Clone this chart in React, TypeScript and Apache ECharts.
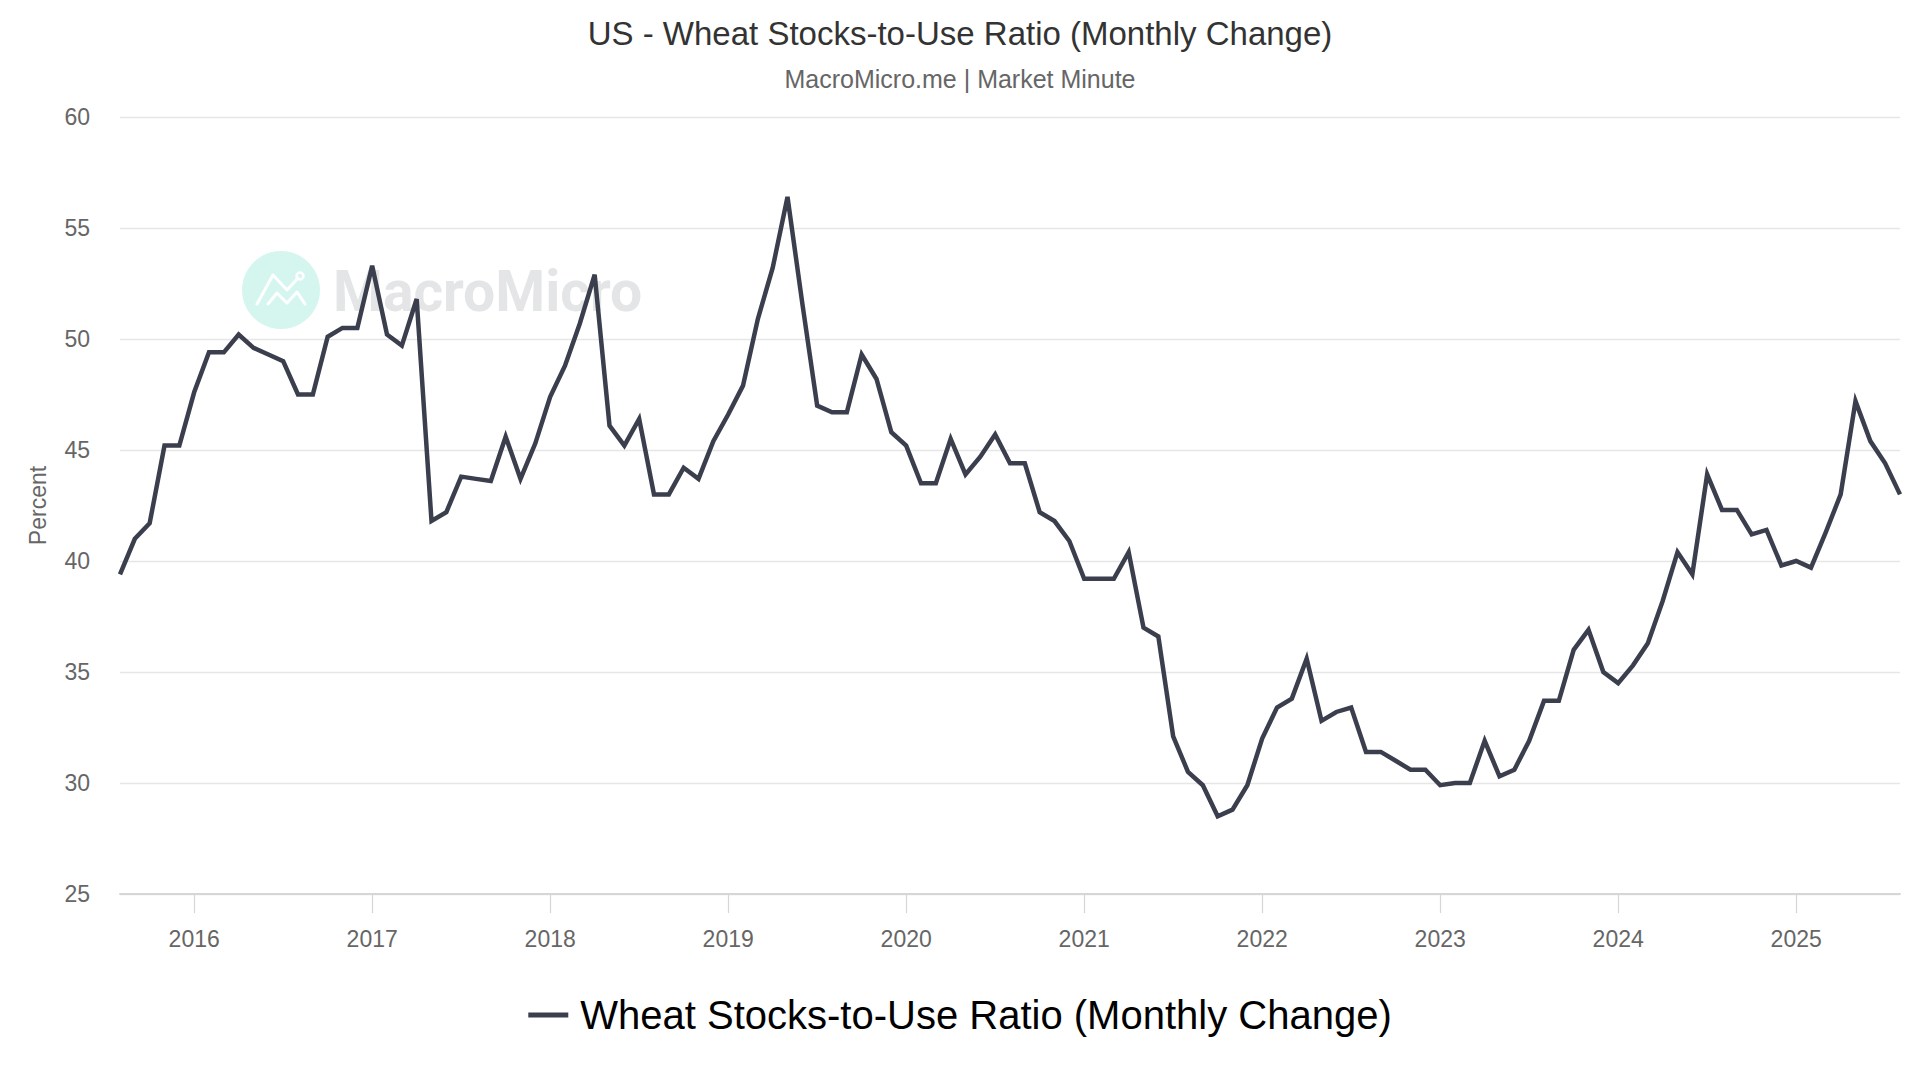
import React, { useEffect, useRef } from 'react'
import * as echarts from 'echarts'

// Monthly readings, Aug 2015 .. Aug 2025 (percent)
const values2015 = [39.4, 41.0, 41.7, 45.2, 45.2] // Aug-Dec
const values2016 = [47.6, 49.4, 49.4, 50.2, 49.6, 49.3, 49.0, 47.5, 47.5, 50.1, 50.5, 50.5]
const values2017 = [53.3, 50.2, 49.7, 51.8, 41.8, 42.2, 43.8, 43.7, 43.6, 45.6, 43.7, 45.3]
const values2018 = [47.4, 48.8, 50.7, 52.9, 46.1, 45.2, 46.4, 43.0, 43.0, 44.2, 43.7, 45.4]
const values2019 = [46.6, 47.9, 50.9, 53.2, 56.4, 51.6, 47.0, 46.7, 46.7, 49.3, 48.2, 45.8]
const values2020 = [45.2, 43.5, 43.5, 45.5, 43.9, 44.7, 45.7, 44.4, 44.4, 42.2, 41.8, 40.9]
const values2021 = [39.2, 39.2, 39.2, 40.4, 37.0, 36.6, 32.1, 30.5, 29.9, 28.5, 28.8, 29.9]
const values2022 = [32.0, 33.4, 33.8, 35.6, 32.8, 33.2, 33.4, 31.4, 31.4, 31.0, 30.6, 30.6]
const values2023 = [29.9, 30.0, 30.0, 31.9, 30.3, 30.6, 31.9, 33.7, 33.7, 36.0, 36.9, 35.0]
const values2024 = [34.5, 35.3, 36.3, 38.2, 40.4, 39.4, 43.9, 42.3, 42.3, 41.2, 41.4, 39.8]
const values2025 = [40.0, 39.7, 41.3, 43.0, 47.2, 45.4, 44.4, 43.0] // Jan-Aug

const yearBlocks: { year: number; firstMonth: number; values: number[] }[] = [
  { year: 2015, firstMonth: 8, values: values2015 },
  { year: 2016, firstMonth: 1, values: values2016 },
  { year: 2017, firstMonth: 1, values: values2017 },
  { year: 2018, firstMonth: 1, values: values2018 },
  { year: 2019, firstMonth: 1, values: values2019 },
  { year: 2020, firstMonth: 1, values: values2020 },
  { year: 2021, firstMonth: 1, values: values2021 },
  { year: 2022, firstMonth: 1, values: values2022 },
  { year: 2023, firstMonth: 1, values: values2023 },
  { year: 2024, firstMonth: 1, values: values2024 },
  { year: 2025, firstMonth: 1, values: values2025 },
]

const yTicks = [25, 30, 35, 40, 45, 50, 55, 60]

const TITLE = 'US - Wheat Stocks-to-Use Ratio (Monthly Change)'
const SUBTITLE = 'MacroMicro.me | Market Minute'
const SERIES_NAME = 'Wheat Stocks-to-Use Ratio (Monthly Change)'

const FONT = '"Liberation Sans", Arial, sans-serif'
const MARK_FONT = 'Roboto, sans-serif'

const App: React.FC = () => {
  const containerRef = useRef<HTMLDivElement>(null)

  useEffect(() => {
    if (!containerRef.current) return
    const chart = echarts.init(containerRef.current, undefined, { renderer: 'svg' })

    const months: string[] = []
    const ratio: number[] = []
    yearBlocks.forEach(b => {
      b.values.forEach((v, i) => {
        const m = b.firstMonth + i
        months.push(`${b.year}-${m < 10 ? '0' + m : m}`)
        ratio.push(v)
      })
    })

    const isJanuary = (_idx: number, val: string) => val.endsWith('-01')

    const option: echarts.EChartsOption = {
      animation: false,
      backgroundColor: '#ffffff',
      textStyle: { fontFamily: FONT },
      title: [
        {
          text: TITLE,
          left: 'center',
          top: 12,
          textStyle: { fontSize: 33, fontWeight: 'normal', color: '#333333', fontFamily: FONT },
        },
        {
          text: SUBTITLE,
          left: 'center',
          top: 61,
          textStyle: { fontSize: 25, fontWeight: 'normal', color: '#666666', fontFamily: FONT },
        },
      ],
      graphic: [
        {
          type: 'group',
          z: 0,
          silent: true,
          children: [
            { type: 'circle', shape: { cx: 281, cy: 290, r: 39 }, style: { fill: '#d5f6ef' } },
            {
              type: 'polyline',
              shape: { points: [[257, 304], [273, 275], [287, 290], [298, 278]] },
              style: { stroke: '#ffffff', lineWidth: 3, fill: 'none', lineCap: 'round', lineJoin: 'round' },
            },
            {
              type: 'polyline',
              shape: { points: [[268, 304], [277, 293], [287, 303], [297, 292], [305, 304]] },
              style: { stroke: '#ffffff', lineWidth: 3, fill: 'none', lineCap: 'round', lineJoin: 'round' },
            },
            { type: 'circle', shape: { cx: 300, cy: 276, r: 3.5 }, style: { fill: 'none', stroke: '#ffffff', lineWidth: 2.5 } },
            {
              type: 'text',
              x: 333,
              y: 291,
              style: {
                text: 'MacroMicro',
                fontSize: 57,
                fontWeight: 'bold',
                fontFamily: MARK_FONT,
                fill: '#e4e5e7',
                verticalAlign: 'middle',
              },
            },
          ],
        },
      ],
      legend: {
        left: 'center',
        top: 990,
        icon: 'rect',
        itemWidth: 40,
        itemHeight: 5,
        itemGap: 10,
        textStyle: { fontSize: 40, color: '#000000', fontFamily: FONT, padding: [0, 0, 0, 7] },
        data: [SERIES_NAME],
      },
      grid: { left: 120, right: 20, top: 117, bottom: 186, containLabel: false },
      xAxis: {
        type: 'category',
        data: months,
        boundaryGap: false,
        axisLine: { show: true, lineStyle: { color: '#d6d6d6', width: 2 } },
        axisTick: { show: true, interval: isJanuary, length: 19, lineStyle: { color: '#d6d6d6', width: 1.2 } },
        axisLabel: {
          interval: isJanuary,
          formatter: (val: string) => val.slice(0, 4),
          fontSize: 23,
          color: '#666666',
          margin: 33,
        },
        splitLine: { show: false },
      },
      yAxis: {
        type: 'value',
        min: yTicks[0],
        max: yTicks[yTicks.length - 1],
        interval: 5,
        name: 'Percent',
        nameLocation: 'middle',
        nameRotate: 90,
        nameGap: 71,
        nameTextStyle: { fontSize: 23, color: '#666666' },
        axisLine: { show: false },
        axisTick: { show: false },
        axisLabel: { fontSize: 23, color: '#666666', margin: 30 },
        splitLine: { lineStyle: { color: '#e6e6e6', width: 1.3 } },
      },
      series: [
        {
          name: SERIES_NAME,
          type: 'line',
          data: ratio,
          showSymbol: false,
          symbol: 'none',
          z: 5,
          lineStyle: { color: '#3b3e4d', width: 4.5, join: 'miter' },
          itemStyle: { color: '#3b3e4d' },
        },
      ],
    }

    chart.setOption(option)

    const handleResize = () => chart.resize()
    window.addEventListener('resize', handleResize)
    return () => {
      window.removeEventListener('resize', handleResize)
      chart.dispose()
    }
  }, [])

  return (
    <div
      ref={containerRef}
      style={{ position: 'fixed', left: 0, top: 0, width: 1920, height: 1080, background: '#fff' }}
    />
  )
}

export default App
